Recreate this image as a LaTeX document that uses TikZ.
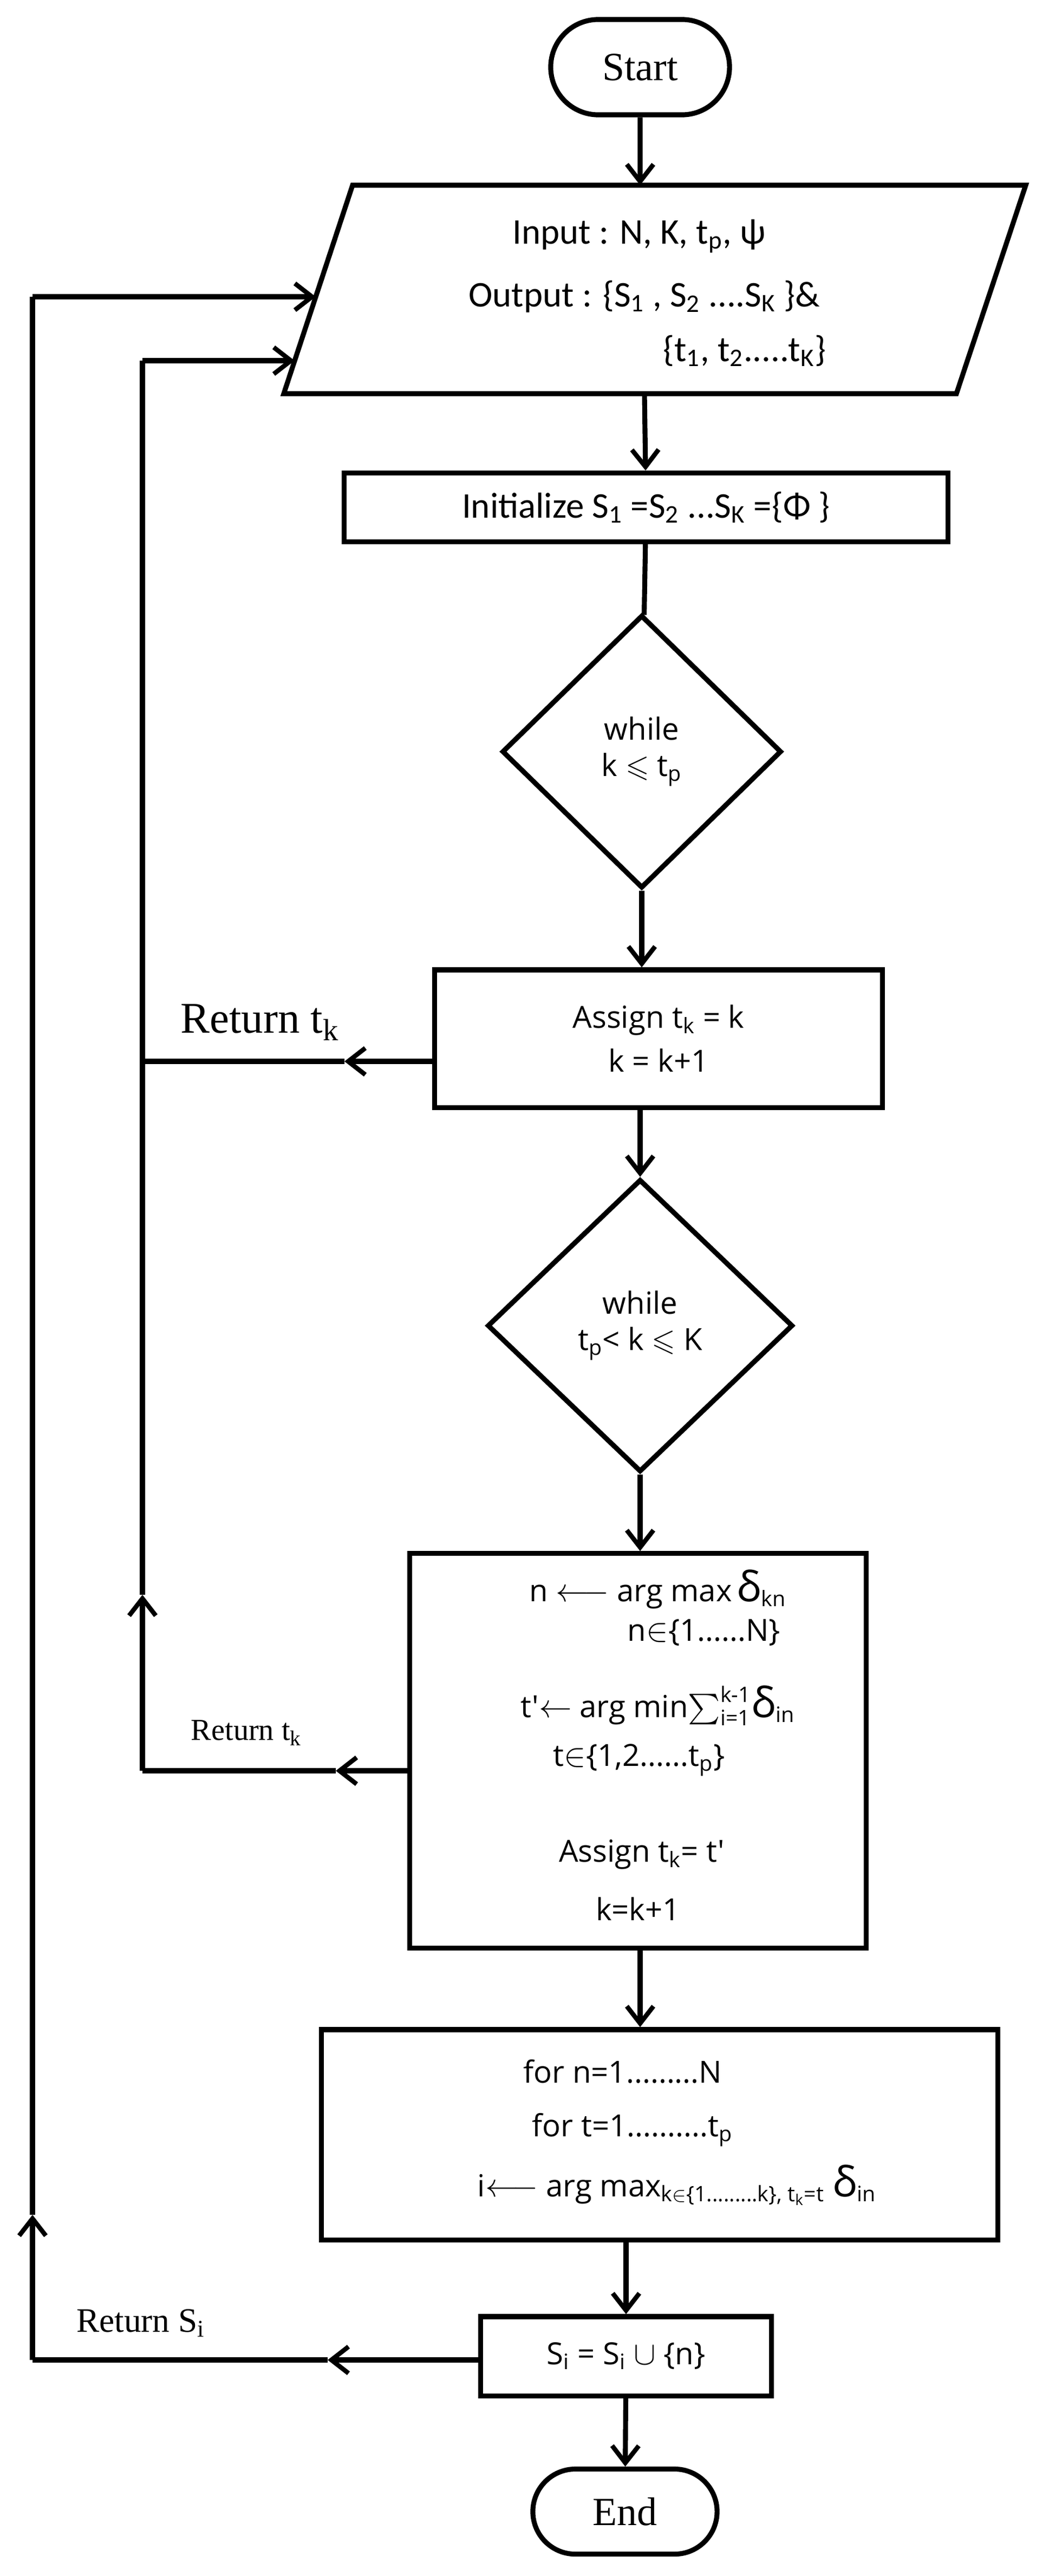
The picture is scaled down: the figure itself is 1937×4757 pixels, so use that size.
\documentclass[tikz,border=0pt]{standalone}
\usepackage{amsmath,amssymb}
\usepackage{fontspec}
\setmainfont{Liberation Serif}
\newfontfamily\carl{Carlito}
\newfontfamily\opsans{Open Sans}
\usetikzlibrary{shapes.geometric,shapes.misc,arrows.meta}
\begin{document}
\begin{tikzpicture}[x=0.01cm,y=-0.01cm,
  line width=2.6pt,
  box/.style={draw,rectangle,inner sep=0},
  term/.style={draw,rounded rectangle,inner sep=0},
  dia/.style={draw,diamond,inner sep=0},
  arr/.style={-{Straight Barb[length=9pt,width=14pt,line width=2.4pt]}},
  ctext/.style={font=\carl\fontsize{19}{22}\selectfont},
  otext/.style={font=\opsans\fontsize{16}{19}\selectfont},
  stext/.style={font=\fontsize{21}{24}\selectfont}]
\useasboundingbox (0,0) rectangle (1937,4757);
\node[term,minimum width=3.3cm,minimum height=1.76cm,stext] (start) at (1182,124) {Start};
% parallelogram
\coordinate (pTL) at (651,342); \coordinate (pTR) at (1894,342);
\coordinate (pBR) at (1766,727); \coordinate (pBL) at (524,727);
\draw (pTL) -- (pTR) -- (pBR) -- (pBL) -- cycle;
\coordinate (ptop) at (1182,342); \coordinate (pbot) at (1190,727);
\coordinate (pin1) at (583,548); \coordinate (pin2) at (544,666);
\node[ctext] (in1) at (1180,436) {Input : N, K, t\textsubscript{p}, ψ};
\node[ctext] (in2) at (1190,548) {Output : \{S\textsubscript{1} , S\textsubscript{2} ....S\textsubscript{K} \}\&};
\node[ctext] (in3) at (1375,648) {\{t\textsubscript{1}, t\textsubscript{2}.....t\textsubscript{K}\}};
\node[box,minimum width=11.15cm,minimum height=1.27cm,ctext] (init) at (1193,937) {Initialize S\textsubscript{1} =S\textsubscript{2} ...S\textsubscript{K} =\{Φ \}};
\node[dia,minimum width=5.16cm,minimum height=5.04cm,otext,align=center] (d1) at (1185,1388) {while\\k $\leqslant$ t\textsubscript{p}};
\node[box,minimum width=8.27cm,minimum height=2.54cm,otext,align=center] (assign) at (1216,1918) {Assign t\textsubscript{k} = k\\[4pt]k = k+1};
\node[dia,minimum width=5.64cm,minimum height=5.4cm,otext,align=center] (d2) at (1182,2448) {while\\t\textsubscript{p}< k $\leqslant$ K};
\node[box,minimum width=8.43cm,minimum height=7.28cm] (big) at (1178,3233) {};
\node[otext] (b1) at (1215,2935) {n $\longleftarrow$ arg max\,{\fontsize{22}{22}\selectfont δ}\textsubscript{kn}};
\node[otext] (b2) at (1300,3015) {n$\in$\{1......N\}};
\node[otext] (b3) at (1215,3150) {t'$\leftarrow$ arg min$\sum_{\text{i=1}}^{\text{k-1}}${\fontsize{22}{22}\selectfont δ}\textsubscript{in}};
\node[otext] (b4) at (1180,3250) {t$\in$\{1,2......t\textsubscript{p}\}};
\node[otext] (b5) at (1185,3425) {Assign t\textsubscript{k}= t'};
\node[otext] (b6) at (1178,3525) {k=k+1};
\node[box,minimum width=12.48cm,minimum height=3.88cm] (for) at (1218,3942) {};
\node[otext] (f1) at (1150,3825) {for n=1.........N};
\node[otext] (f2) at (1168,3933) {for t=1..........t\textsubscript{p}};
\node[otext] (f3) at (1250,4035) {i$\longleftarrow$ arg max\textsubscript{k$\in$\{1.........k\}, t\textsubscript{k}=t} {\fontsize{22}{22}\selectfont δ}\textsubscript{in}};
\node[box,minimum width=5.36cm,minimum height=1.46cm,otext] (si) at (1156,4351) {S\textsubscript{i} = S\textsubscript{i} $\cup$ \{n\}};
\node[term,minimum width=3.4cm,minimum height=1.57cm,stext] (end) at (1154,4638) {End};
% main flow
\draw[arr] (start) -- (ptop);
\draw[arr] (pbot) -- (init);
\draw (init) -- (d1);
\draw[arr] (d1) -- (d1 |- assign.north);
\draw[arr] (assign.south -| d2) -- (d2);
\draw[arr] (d2) -- (d2 |- big.north);
\draw[arr] (big.south -| d2) -- (d2 |- for.north);
\draw[arr] (for.south -| si) -- (si);
\draw[arr] (si) -- (end);
% return loops
\coordinate (r1a) at (636,1960); \coordinate (r1c) at (263,1960);
\coordinate (r1d) at (263,666);
\draw[arr] (assign.west |- r1a) -- (r1a);
\draw (r1a) -- (r1c) -- (r1d);
\draw[arr] (r1d) -- (pin2);
\node[stext,font=\fontsize{23}{26}\selectfont] (rt1) at (480,1888) {Return t\textsubscript{k}};
\coordinate (r2a) at (620,3270); \coordinate (r2c) at (263,3270); \coordinate (r2m) at (263,2945);
\draw[arr] (big.west |- r2a) -- (r2a);
\draw (r2a) -- (r2c);
\draw[arr] (r2c) -- (r2m);
\draw (r2m) -- (r1c);
\node[font=\fontsize{16}{19}\selectfont] (rt2) at (455,3200) {Return t\textsubscript{k}};
\coordinate (r3a) at (605,4358); \coordinate (r3c) at (60,4358); \coordinate (r3m) at (60,4090);
\coordinate (r3t) at (60,548);
\draw[arr] (si.west |- r3a) -- (r3a);
\draw (r3a) -- (r3c);
\draw[arr] (r3c) -- (r3m);
\draw (r3m) -- (r3t);
\draw[arr] (r3t) -- (pin1);
\node[font=\fontsize{18}{21}\selectfont] (rs) at (260,4290) {Return S\textsubscript{i}};
\end{tikzpicture}
\end{document}
